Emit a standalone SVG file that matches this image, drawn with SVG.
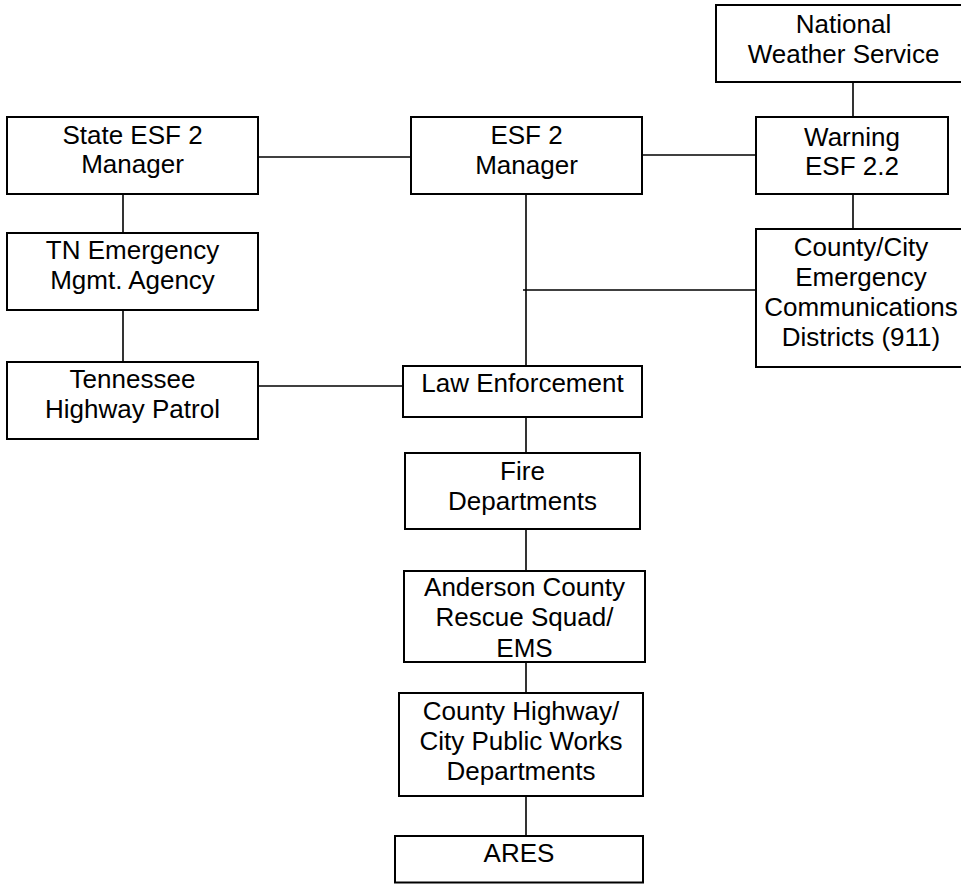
<svg xmlns="http://www.w3.org/2000/svg" width="961" height="884" viewBox="0 0 961 884">
<style>
.box{fill:#fff;stroke:#000;stroke-width:2}
.ln{stroke:#000;stroke-width:1.6;fill:none}
text{font-family:"Liberation Sans",Arial,sans-serif;font-size:26px;fill:#000;text-anchor:middle}
</style>
<rect width="961" height="884" fill="#fff"/>
<g id="connectors">
<line class="ln" x1="258" y1="157" x2="411" y2="157"/>
<line class="ln" x1="642" y1="155" x2="756" y2="155"/>
<line class="ln" x1="853" y1="82" x2="853" y2="117"/>
<line class="ln" x1="853" y1="194" x2="853" y2="229"/>
<line class="ln" x1="526" y1="194" x2="526" y2="366"/>
<line class="ln" x1="523" y1="290" x2="756" y2="290"/>
<line class="ln" x1="123" y1="194" x2="123" y2="233"/>
<line class="ln" x1="123" y1="310" x2="123" y2="362"/>
<line class="ln" x1="258" y1="386" x2="403" y2="386"/>
<line class="ln" x1="526" y1="417" x2="526" y2="453"/>
<line class="ln" x1="526" y1="529" x2="526" y2="571"/>
<line class="ln" x1="526" y1="662" x2="526" y2="693"/>
<line class="ln" x1="526" y1="796" x2="526" y2="836"/>
</g>
<g id="nws"><rect class="box" x="716" y="5" width="260" height="77"/><text x="843.5" y="33">National</text><text x="843.5" y="63">Weather Service</text></g>
<g id="state-esf2"><rect class="box" x="7" y="117" width="251" height="77"/><text x="132.5" y="144">State ESF 2</text><text x="132.5" y="173">Manager</text></g>
<g id="esf2-manager"><rect class="box" x="411" y="117" width="231" height="77"/><text x="526.5" y="144">ESF 2</text><text x="526.5" y="174">Manager</text></g>
<g id="warning"><rect class="box" x="756" y="117" width="192" height="77"/><text x="852" y="146">Warning</text><text x="852" y="175">ESF 2.2</text></g>
<g id="tema"><rect class="box" x="7" y="233" width="251" height="77"/><text x="132.5" y="259">TN Emergency</text><text x="132.5" y="289">Mgmt. Agency</text></g>
<g id="county-911"><rect class="box" x="756" y="229" width="220" height="138"/><text x="861" y="256">County/City</text><text x="861" y="286">Emergency</text><text x="861" y="316">Communications</text><text x="861" y="346">Districts (911)</text></g>
<g id="thp"><rect class="box" x="7" y="362" width="251" height="77"/><text x="132.5" y="388">Tennessee</text><text x="132.5" y="418">Highway Patrol</text></g>
<g id="law"><rect class="box" x="403" y="366" width="239" height="51"/><text x="522.5" y="392">Law Enforcement</text></g>
<g id="fire"><rect class="box" x="405" y="453" width="235" height="76"/><text x="522.5" y="480">Fire</text><text x="522.5" y="510">Departments</text></g>
<g id="anderson"><rect class="box" x="404" y="571" width="241" height="91"/><text x="524.5" y="596">Anderson County</text><text x="524.5" y="626">Rescue Squad/</text><text x="524.5" y="657">EMS</text></g>
<g id="highway"><rect class="box" x="399" y="693" width="244" height="103"/><text x="521" y="720">County Highway/</text><text x="521" y="750">City Public Works</text><text x="521" y="780">Departments</text></g>
<g id="ares"><rect class="box" x="395" y="836" width="248" height="46.5"/><text x="519" y="862">ARES</text></g>
</svg>
